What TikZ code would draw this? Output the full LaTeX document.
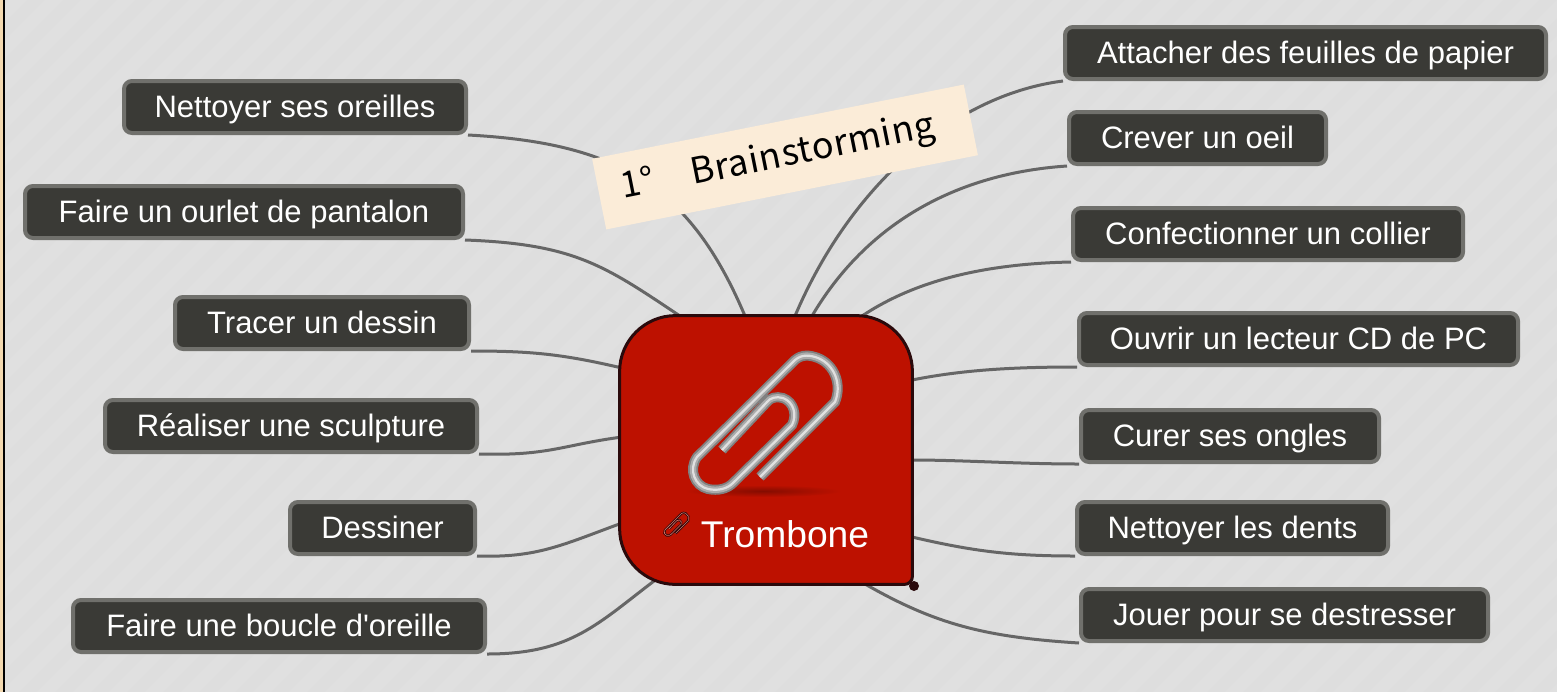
\documentclass[tikz,border=0pt]{standalone}
\usepackage{fontspec}
\setmainfont{Liberation Sans}
\newfontfamily\notefont[LetterSpace=2]{Noto Sans CJK JP}
\definecolor{bgc}{HTML}{E0E0E0}
\definecolor{stripec}{HTML}{DEDEDE}
\definecolor{boxc}{HTML}{3A3A36}
\definecolor{boxline}{HTML}{70706C}
\definecolor{wire}{HTML}{666666}
\definecolor{hubc}{HTML}{BD1100}
\definecolor{hubline}{HTML}{2A0A0C}
\definecolor{notec}{HTML}{FBECD8}
\definecolor{edgec}{HTML}{F3D9B0}
\pgfdeclarelayer{bg}
\pgfdeclarelayer{conn}
\pgfsetlayers{bg,conn,main}
\tikzset{
  idea/.style={draw=boxline,fill=boxc,line width=2pt,rounded corners=4pt,text=white,
    font=\fontsize{15.5}{18}\selectfont,inner sep=0pt,minimum height=26pt,
    text height=12pt,text depth=2pt},
  link/.style={draw=wire,line width=1.5pt},
}
\newcommand{\clippath}{(760,477) -- (835,402) .. controls (842,385) and (835,365) .. (818,358)
  .. controls (810,355) and (802,354) .. (795,360) -- (697,457)
  .. controls (688,470) and (695,486) .. (708,489) .. controls (718,491) and (727,489) .. (733,483)
  -- (792,425) .. controls (797,415) and (794,402) .. (783,398) .. controls (776,396) and (770,398) .. (767,402) -- (722,450)}
\begin{document}
\begin{tikzpicture}[x=0.5pt,y=-0.5pt]
\useasboundingbox (0,0) rectangle (1557,691);
\begin{pgfonlayer}{bg}
  \fill[bgc] (-6,-6) rectangle (1563,697);
  \begin{scope}
    \clip (-6,-6) rectangle (1563,697);
    \foreach \k in {0,36,...,2300}
      \draw[stripec,line width=6pt] (\k+30,-30) -- (\k-730,730);
  \end{scope}
  \fill[edgec] (-6,-6) rectangle (2.5,697);
  \fill[black] (3,-6) rectangle (5,697);
\end{pgfonlayer}

% hub
\node[minimum width=146pt,minimum height=134pt,inner sep=0pt] (hub) at (766,450) {};
\draw[fill=hubc,draw=hubline,line width=1.5pt]
  (hub.west) [rounded corners=28pt] -- (hub.north west) -- (hub.north east)
  -- (hub.east) [rounded corners=4pt] -- (hub.south east) [rounded corners=28pt]
  -- (hub.south west) -- cycle;
\fill[hubline] (914,586) circle[radius=2.5pt];
\shade[inner color=hubc!70!black,outer color=hubc] (763,491) ellipse[x radius=78,y radius=6];
\draw[line width=5pt,color=black!50] \clippath;
\draw[line width=3.2pt,color=black!33] \clippath;
\draw[line width=1.1pt,color=white!88!black] \clippath;
\begin{scope}[shift={(664,513)},scale=0.17,shift={(-692,-357)}]
  \draw[line width=1.1pt,color=hubline] \clippath;
  \draw[line width=0.3pt,color=hubc!60!white] \clippath;
\end{scope}
\node[text=white,font=\fontsize{18.6}{22}\selectfont,inner sep=0pt] (title) at (785,534) {Trombone};

% ideas
\node[idea,minimum width=240.5pt] (a1) at (1305.5,53) {Attacher des feuilles de papier};
\node[idea,minimum width=128.5pt] (a2) at (1197.5,138) {Crever un oeil};
\node[idea,minimum width=195pt]   (a3) at (1268,234) {Confectionner un collier};
\node[idea,minimum width=219.5pt] (a4) at (1298.5,339) {Ouvrir un lecteur CD de PC};
\node[idea,minimum width=149pt]   (a5) at (1230,436) {Curer ses ongles};
\node[idea,minimum width=155.5pt] (a6) at (1232.5,528) {Nettoyer les dents};
\node[idea,minimum width=203.5pt] (a7) at (1284.5,615) {Jouer pour se destresser};
\node[idea,minimum width=171pt]   (b1) at (295,107) {Nettoyer ses oreilles};
\node[idea,minimum width=219pt]   (b2) at (244,212) {Faire un ourlet de pantalon};
\node[idea,minimum width=147pt]   (b3) at (322,323) {Tracer un dessin};
\node[idea,minimum width=186pt]   (b4) at (291,426) {Réaliser une sculpture};
\node[idea,minimum width=92.5pt]  (b5) at (382.5,528) {Dessiner};
\node[idea,minimum width=206pt]   (b6) at (279,626) {Faire une boucle d\textquotesingle oreille};

% hub attachment points
\coordinate (pa1) at (795,316);
\coordinate (pa2) at (812,316);
\coordinate (pa3) at (862,316);
\coordinate (pa4) at (912,380);
\coordinate (pa5) at (912,460);
\coordinate (pa6) at (912,537);
\coordinate (pa7) at (865,584);
\coordinate (pb1) at (745,316);
\coordinate (pb2) at (680,316);
\coordinate (pb3) at (622,368);
\coordinate (pb4) at (622,437);
\coordinate (pb5) at (622,523);
\coordinate (pb6) at (658,578);

\begin{pgfonlayer}{conn}
  \draw[link] (a1.south west) .. controls +(-110,14) and +(55,-130) .. (pa1);
  \draw[link] (a2.south west) .. controls +(-120,8) and +(50,-85) .. (pa2);
  \draw[link] (a3.south west) .. controls +(-100,2) and +(45,-30) .. (pa3);
  \draw[link] (a4.south west) .. controls +(-65,0) and +(50,-10) .. (pa4);
  \draw[link] (a5.south west) .. controls +(-60,0) and +(50,0) .. (pa5);
  \draw[link] (a6.south west) .. controls +(-65,0) and +(60,14) .. (pa6);
  \draw[link] (a7.south west) .. controls +(-95,-6) and +(70,40) .. (pa7);
  \draw[link] (b1.south east) .. controls +(150,8) and +(-55,-130) .. (pb1);
  \draw[link] (b2.south east) .. controls +(110,4) and +(-75,-50) .. (pb2);
  \draw[link] (b3.south east) .. controls +(60,0) and +(-60,-14) .. (pb3);
  \draw[link] (b4.south east) .. controls +(70,2) and +(-60,8) .. (pb4);
  \draw[link] (b5.south east) .. controls +(60,2) and +(-60,22) .. (pb5);
  \draw[link] (b6.south east) .. controls +(85,0) and +(-60,45) .. (pb6);
\end{pgfonlayer}

\node[fill=notec,rotate=11.3,minimum width=189.5pt,minimum height=36pt,inner sep=0pt,
  font=\notefont\fontsize{18}{20}\selectfont] (note) at (785,157) {\raisebox{-2.5pt}{1°　Brainstorming}\hspace*{7pt}};
\end{tikzpicture}
\end{document}
